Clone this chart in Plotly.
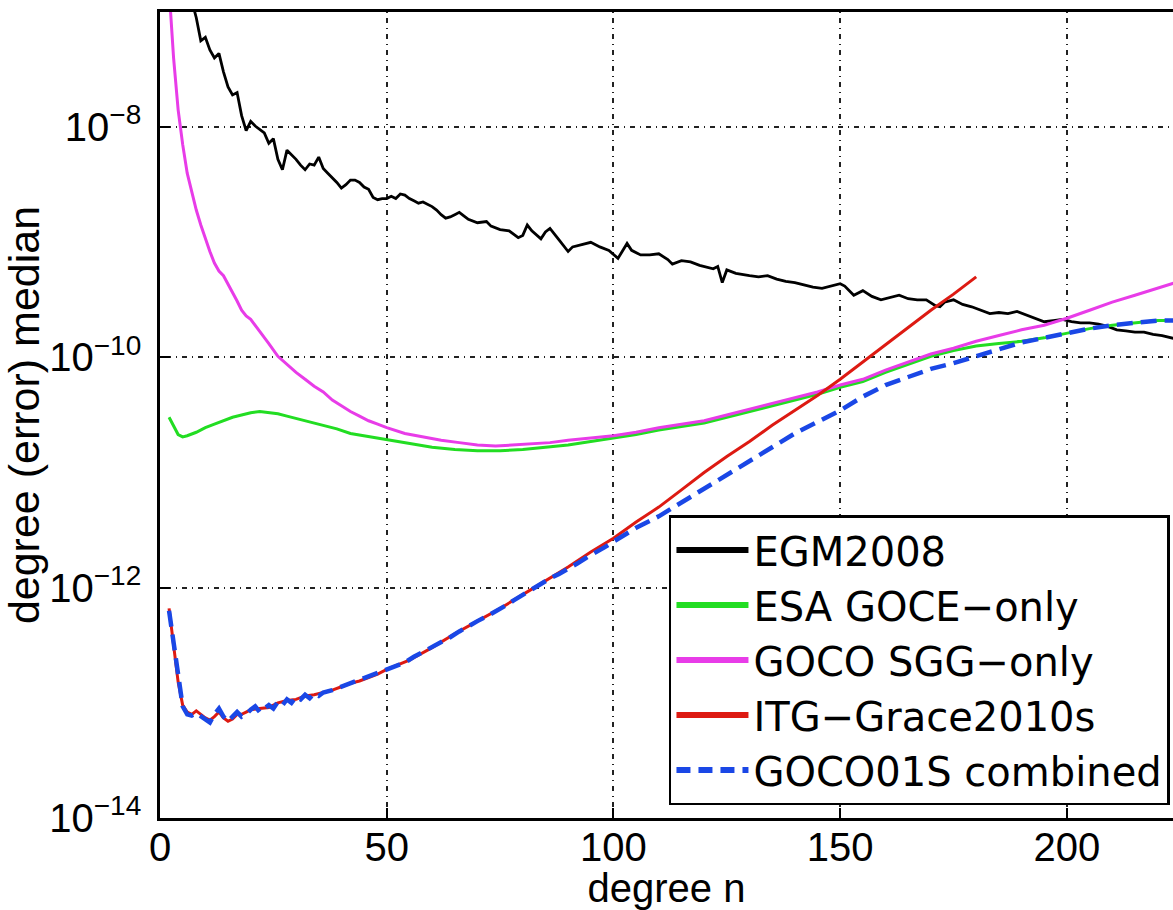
import plotly.graph_objects as go

# ---- data (degree n, log10 of degree (error) median) ----
egm_n = [7, 8, 9, 10, 11, 12, 13, 14, 15, 16, 17, 18, 19, 20, 21, 22, 23, 24, 25, 26, 27, 28, 29, 30,
         31, 32, 33, 34, 35, 36, 37, 38, 39, 40, 41, 42, 43, 44, 45, 46, 47, 48, 49, 50, 51, 52, 53,
         54, 55, 56, 57, 58, 59, 60, 61, 62, 63, 64, 65, 66, 67, 68, 70, 72, 73, 75, 77, 79, 80, 81,
         82, 84, 85, 86, 88, 90, 91, 93, 95, 97, 99, 101, 103, 104, 106, 108, 110, 112, 113, 115, 117,
         119, 121, 122, 123, 124, 125, 127, 130, 132, 134, 136, 138, 140, 142, 144, 146, 148, 150, 151,
         153, 155, 157, 159, 161, 163, 165, 167, 169, 171, 172, 173, 175, 177, 179, 181, 183, 185, 187,
         189, 191, 193, 195, 197, 199, 201, 203, 205, 207, 209, 211, 213, 215, 217, 219, 221, 224]
egm_log = [-6.90, -7.05, -7.25, -7.22, -7.33, -7.40, -7.36, -7.52, -7.65, -7.72, -7.70, -7.90, -8.03,
           -7.95, -7.99, -8.02, -8.05, -8.14, -8.10, -8.28, -8.37, -8.20, -8.24, -8.28, -8.33, -8.37,
           -8.32, -8.33, -8.26, -8.36, -8.40, -8.44, -8.48, -8.53, -8.50, -8.46, -8.46, -8.48, -8.52,
           -8.54, -8.61, -8.63, -8.62, -8.62, -8.60, -8.62, -8.58, -8.59, -8.62, -8.64, -8.66, -8.65,
           -8.67, -8.69, -8.72, -8.76, -8.79, -8.78, -8.76, -8.74, -8.77, -8.80, -8.83, -8.82, -8.86,
           -8.89, -8.90, -8.96, -8.94, -8.85, -8.90, -8.97, -8.91, -8.88, -8.98, -9.08, -9.04, -9.02,
           -9.00, -9.04, -9.07, -9.14, -9.01, -9.07, -9.11, -9.11, -9.10, -9.15, -9.19, -9.16, -9.17,
           -9.20, -9.22, -9.23, -9.21, -9.35, -9.24, -9.27, -9.29, -9.30, -9.29, -9.32, -9.34, -9.35,
           -9.37, -9.39, -9.40, -9.38, -9.36, -9.38, -9.46, -9.42, -9.47, -9.50, -9.48, -9.46, -9.49,
           -9.50, -9.50, -9.55, -9.56, -9.52, -9.50, -9.54, -9.56, -9.59, -9.62, -9.61, -9.62, -9.60,
           -9.63, -9.66, -9.69, -9.68, -9.67, -9.69, -9.70, -9.70, -9.71, -9.73, -9.76, -9.77, -9.78,
           -9.78, -9.80, -9.81, -9.84]

goce_n = [2, 3, 4, 5, 6, 8, 10, 12, 14, 16, 18, 20, 22, 24, 26, 28, 30, 33, 36, 39, 42, 45, 48, 51,
          55, 60, 65, 70, 75, 80, 85, 90, 95, 100, 105, 110, 115, 120, 125, 130, 135, 140, 145, 150,
          155, 160, 165, 170, 175, 180, 185, 190, 195, 200, 205, 210, 215, 220, 224]
goce_log = [-10.52, -10.60, -10.67, -10.69, -10.68, -10.65, -10.61, -10.58, -10.55, -10.52, -10.50,
            -10.48, -10.47, -10.48, -10.49, -10.51, -10.53, -10.56, -10.59, -10.62, -10.66, -10.68,
            -10.70, -10.72, -10.75, -10.78, -10.80, -10.81, -10.81, -10.80, -10.78, -10.76, -10.73,
            -10.70, -10.67, -10.63, -10.60, -10.57, -10.52, -10.47, -10.42, -10.37, -10.32, -10.26,
            -10.21, -10.13, -10.06, -9.99, -9.94, -9.90, -9.88, -9.86, -9.83, -9.79, -9.75, -9.72,
            -9.70, -9.68, -9.68]

sgg_n = [2, 3, 4, 5, 6, 7, 8, 9, 10, 11, 12, 13, 14, 15, 16, 17, 18, 19, 20, 22, 24, 26, 28, 30, 32,
         34, 36, 38, 40, 42, 44, 46, 48, 50, 54, 58, 62, 66, 70, 74, 78, 82, 86, 90, 95, 100, 105,
         110, 115, 120, 125, 130, 135, 140, 145, 150, 155, 160, 165, 170, 175, 180, 185, 190, 195,
         200, 205, 210, 215, 220, 224]
sgg_log = [-6.80, -7.40, -7.85, -8.15, -8.40, -8.57, -8.72, -8.85, -8.97, -9.08, -9.18, -9.25, -9.29,
           -9.36, -9.43, -9.51, -9.59, -9.64, -9.67, -9.77, -9.88, -9.99, -10.06, -10.13, -10.19,
           -10.25, -10.30, -10.37, -10.42, -10.47, -10.51, -10.55, -10.58, -10.61, -10.66, -10.69,
           -10.72, -10.74, -10.76, -10.77, -10.76, -10.75, -10.74, -10.72, -10.70, -10.68, -10.65,
           -10.61, -10.58, -10.55, -10.50, -10.45, -10.40, -10.35, -10.30, -10.24, -10.19, -10.11,
           -10.04, -9.97, -9.92, -9.86, -9.81, -9.76, -9.72, -9.66, -9.59, -9.52, -9.46, -9.40, -9.35]

itg_n = [2, 3, 4, 5, 6, 7, 8, 9, 10, 11, 12, 13, 14, 15, 16, 17, 18, 19, 20, 22, 24, 26, 28, 30, 32,
         34, 36, 38, 40, 42, 44, 46, 48, 50, 55, 60, 65, 70, 75, 80, 85, 90, 95, 100, 105, 110, 115,
         120, 125, 130, 135, 140, 145, 150, 155, 160, 165, 170, 175, 180]
itg_log = [-12.18, -12.50, -12.82, -13.02, -13.08, -13.10, -13.07, -13.10, -13.13, -13.15, -13.12,
           -13.08, -13.13, -13.16, -13.14, -13.10, -13.10, -13.08, -13.06, -13.05, -13.04, -13.00,
           -12.98, -12.97, -12.94, -12.93, -12.91, -12.89, -12.86, -12.83, -12.81, -12.78, -12.75,
           -12.71, -12.63, -12.52, -12.40, -12.29, -12.18, -12.06, -11.94, -11.82, -11.69, -11.57,
           -11.43, -11.30, -11.15, -11.00, -10.86, -10.73, -10.59, -10.46, -10.33, -10.19, -10.04,
           -9.89, -9.74, -9.59, -9.45, -9.30]

goco_n = [2, 3, 4, 5, 6, 7, 8, 9, 10, 11, 12, 13, 14, 15, 16, 17, 18, 19, 20, 21, 22, 23, 24, 25, 26,
          27, 28, 29, 30, 31, 32, 33, 34, 35, 36, 38, 40, 42, 44, 46, 48, 50, 52, 54, 56, 58, 60, 62,
          64, 66, 68, 70, 72, 74, 76, 78, 80, 82, 84, 86, 88, 90, 92, 94, 96, 98, 100, 105, 110, 115,
          120, 125, 130, 135, 140, 145, 150, 155, 160, 165, 170, 175, 180, 185, 190, 195, 200, 205,
          210, 215, 220, 224]
goco_log = [-12.20, -12.48, -12.80, -13.03, -13.10, -13.11, -13.09, -13.12, -13.14, -13.17, -13.10,
            -13.05, -13.12, -13.16, -13.12, -13.08, -13.12, -13.10, -13.06, -13.03, -13.08, -13.05,
            -13.02, -13.05, -12.99, -13.02, -12.97, -13.00, -12.95, -12.97, -12.93, -12.96, -12.92,
            -12.94, -12.91, -12.89, -12.86, -12.83, -12.80, -12.78, -12.75, -12.72, -12.69, -12.65,
            -12.60, -12.56, -12.52, -12.47, -12.43, -12.38, -12.33, -12.29, -12.25, -12.21, -12.16,
            -12.11, -12.06, -12.02, -11.97, -11.92, -11.88, -11.84, -11.79, -11.74, -11.70, -11.65,
            -11.60, -11.48, -11.38, -11.26, -11.15, -11.03, -10.91, -10.79, -10.66, -10.56, -10.46,
            -10.34, -10.24, -10.17, -10.10, -10.05, -9.99, -9.92, -9.87, -9.83, -9.79, -9.75, -9.72,
            -9.70, -9.68, -9.68]

series_names = ["EGM2008", "ESA GOCE\u2212only", "GOCO SGG\u2212only", "ITG\u2212Grace2010s", "GOCO01S combined"]
x_tick_vals = [0, 50, 100, 150, 200]
y_tick_exps = [-14, -12, -10, -8]
y_tick_text = ["10<sup>\u221214</sup>", "10<sup>\u221212</sup>", "10<sup>\u221210</sup>", "10<sup>\u22128</sup>"]


def to_val(logs):
    return [10.0 ** v for v in logs]


colors = ["#000000", "#22dd22", "#e83ce8", "#dd1a12", "#1a47e6"]
widths = [2.8, 3, 3, 3, 4.5]
dashes = ["solid", "solid", "solid", "solid", "16px,8px"]
xs = [egm_n, goce_n, sgg_n, itg_n, goco_n]
ys = [egm_log, goce_log, sgg_log, itg_log, goco_log]

fig = go.Figure()
for name, c, w, d, x, y in zip(series_names, colors, widths, dashes, xs, ys):
    fig.add_trace(go.Scatter(x=x, y=to_val(y), mode="lines", name=name, showlegend=False,
                             line=dict(color=c, width=w, dash=d)))
# legend-only entries with the thick legend strokes of the original
for name, c, d in zip(series_names, colors, dashes):
    fig.add_trace(go.Scatter(x=[None], y=[None], mode="lines", name=name, showlegend=True,
                             line=dict(color=c, width=6, dash=("14px,8px" if d != "solid" else "solid"))))

font_family = "Liberation Sans, Arial, sans-serif"

fig.update_layout(
    width=1173, height=910,
    margin=dict(l=160, r=0, t=12, b=92, autoexpand=False),
    paper_bgcolor="white", plot_bgcolor="white",
    font=dict(family=font_family, color="black", size=38),
    showlegend=True,
    legend=dict(x=0.997, y=0.016, xanchor="right", yanchor="bottom",
                bgcolor="white", bordercolor="black", borderwidth=2.5,
                font=dict(size=40, family="DejaVu Sans, sans-serif"), tracegroupgap=0,
                itemwidth=72),
    xaxis=dict(range=[0, 223.4], tickvals=x_tick_vals, ticks="inside", ticklen=10,
               tickwidth=1.5, tickcolor="black", ticklabelstandoff=-8, automargin=False,
               showline=True, linecolor="black", linewidth=2.5, mirror=True,
               showgrid=True, gridcolor="#222222", gridwidth=1.5, griddash="1px,5px,5px,5px",
               zeroline=False, tickfont=dict(size=40),
               title=dict(text="degree n", font=dict(size=40), standoff=0)),
    yaxis=dict(type="log", range=[-14, -7], tickvals=to_val(y_tick_exps), ticktext=y_tick_text,
               ticks="inside", ticklen=10, tickwidth=1.5, tickcolor="black", ticklabelstandoff=8,
               automargin=False,
               showline=True, linecolor="black", linewidth=2.5,
               showgrid=True, gridcolor="#222222", gridwidth=1.5, griddash="1px,5px,5px,5px",
               zeroline=False, tickfont=dict(size=40),
               title=dict(text="degree (error) median", font=dict(size=43), standoff=4)),
)

fig.write_html("out.html")
